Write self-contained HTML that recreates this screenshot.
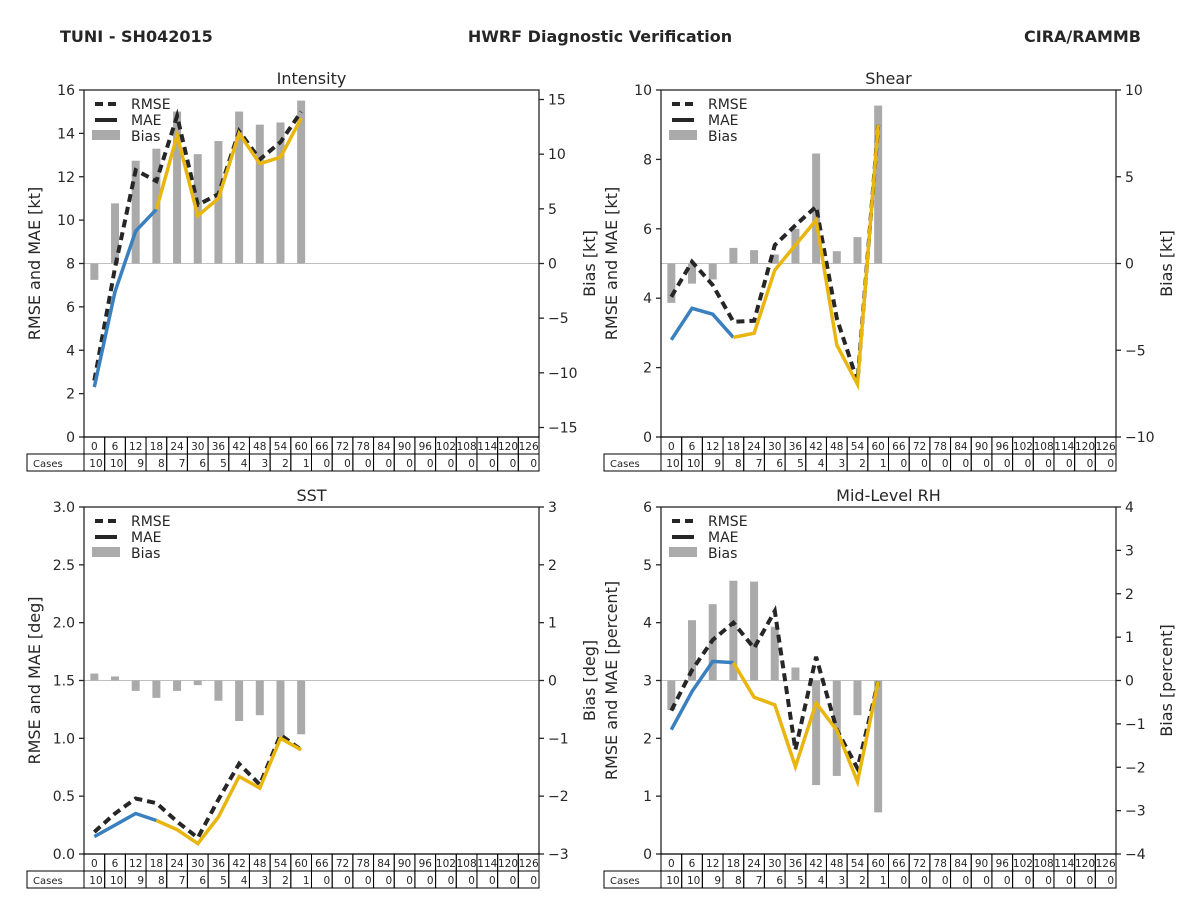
<!DOCTYPE html>
<html><head><meta charset="utf-8"><style>
body{margin:0;background:#fff;}
svg text{font-family:"DejaVu Sans","Liberation Sans",sans-serif;fill:#262626;}
</style></head><body>
<svg id="c" width="1200" height="900" viewBox="0 0 1200 900" xmlns="http://www.w3.org/2000/svg">
<text x="60" y="42" font-size="16" font-weight="bold">TUNI - SH042015</text>
<text x="600" y="42" font-size="16" font-weight="bold" text-anchor="middle">HWRF Diagnostic Verification</text>
<text x="1141" y="42" font-size="16" font-weight="bold" text-anchor="end">CIRA/RAMMB</text>
</svg>
<script>
const leadTimes=[0,6,12,18,24,30,36,42,48,54,60,66,72,78,84,90,96,102,108,114,120,126];
const cases=[10,10,9,8,7,6,5,4,3,2,1,0,0,0,0,0,0,0,0,0,0,0];
const intRmse=[2.6,7.8,12.3,11.8,14.8,10.7,11.2,14.1,12.8,13.6,15.0];
const intMae=[2.3,6.7,9.5,10.5,13.9,10.2,11.0,14.0,12.6,12.9,14.7];
const intBias=[-1.5,5.5,9.4,10.5,13.9,10.0,11.2,13.9,12.7,12.9,14.9];
const shrRmse=[4.04,5.05,4.38,3.32,3.35,5.53,6.1,6.64,3.42,1.6,9.0];
const shrMae=[2.8,3.71,3.54,2.87,2.99,4.81,5.53,6.25,2.65,1.52,9.0];
const shrBias=[-2.27,-1.16,-0.92,0.9,0.77,0.52,2.0,6.34,0.71,1.52,9.1];
const sstRmse=[0.19,0.35,0.48,0.44,0.28,0.14,0.47,0.78,0.6,1.03,0.9];
const sstMae=[0.15,0.25,0.35,0.29,0.21,0.09,0.32,0.67,0.57,1.0,0.9];
const sstBias=[0.12,0.07,-0.18,-0.3,-0.18,-0.08,-0.35,-0.7,-0.6,-0.97,-0.93];
const rhRmse=[2.48,3.18,3.7,4.0,3.56,4.2,1.8,3.41,2.15,1.48,2.98];
const rhMae=[2.15,2.81,3.33,3.31,2.71,2.58,1.51,2.61,2.14,1.25,2.98];
const rhBias=[-0.68,1.39,1.76,2.3,2.28,1.24,0.3,-2.41,-2.2,-0.8,-3.04];
const intLeftTicks=[0,2,4,6,8,10,12,14,16];
const intRightTicks=[-15,-10,-5,0,5,10,15];
const shrLeftTicks=[0,2,4,6,8,10];
const shrRightTicks=[-10,-5,0,5,10];
const sstLeftTicks=["0.0","0.5","1.0","1.5","2.0","2.5","3.0"];
const sstRightTicks=[-3,-2,-1,0,1,2,3];
const rhLeftTicks=[0,1,2,3,4,5,6];
const rhRightTicks=[-4,-3,-2,-1,0,1,2,3,4];

const svg=document.getElementById('c');
const NS='http://www.w3.org/2000/svg';
function mk(tag,attrs,parent){const e=document.createElementNS(NS,tag);for(const k in attrs)e.setAttribute(k,attrs[k]);(parent||svg).appendChild(e);return e;}

function panel(cfg){
  const g=mk('g',{});
  
  
  const L=cfg.x0,R=L+455,T=cfg.y0,B=T+347;
  const n=leadTimes.length, cw=(R-L)/n;
  const xs=i=>L+cw*(i+0.5);
  const yl=v=>B-(v-cfg.lmin)/(cfg.lmax-cfg.lmin)*(B-T);
  const yr=v=>B-(v-cfg.rmin)/(cfg.rmax-cfg.rmin)*(B-T);
  const z=mk('line',{x1:L,x2:R,y1:yr(0),y2:yr(0),stroke:'#c0c0c0','stroke-width':1},g);
  
  
  cfg.bias.forEach((v,i)=>{
    const y1=yr(Math.max(v,0)),y2=yr(Math.min(v,0));
    const b=mk('rect',{x:xs(i)-4,y:y1,width:8,height:Math.max(y2-y1,0.5),fill:'#aaaaaa'},g);
    
    
  });
  const pts=(arr,f,a,bnd)=>arr.slice(a,bnd).map((v,k)=>xs(k+a).toFixed(1)+','+f(v).toFixed(1)).join(' ');
  const r=mk('polyline',{points:pts(cfg.rmse,yl,0,cfg.rmse.length),fill:'none',stroke:'#262626','stroke-width':4,'stroke-dasharray':'8,5'},g);
  
  
  const m1=mk('polyline',{points:pts(cfg.mae,yl,0,4),fill:'none',stroke:'#3a80bf','stroke-width':3.5},g);
  
  
  const m2=mk('polyline',{points:pts(cfg.mae,yl,3,cfg.mae.length),fill:'none',stroke:'#e8b60f','stroke-width':3.5},g);
  
  
  const fr=mk('rect',{x:L,y:T,width:R-L,height:B-T,fill:'none',stroke:'#262626','stroke-width':1.3},g);
  
  
  cfg.lt.forEach(t=>{const y=yl(parseFloat(t));
    mk('line',{x1:L-5,x2:L,y1:y,y2:y,stroke:'#262626','stroke-width':1.3},g);
    const tx=mk('text',{x:L-9,y:y+5,'font-size':14,'text-anchor':'end'},g);tx.textContent=t;
    
    });
  cfg.rt.forEach(t=>{const y=yr(t);
    mk('line',{x1:R,x2:R+5,y1:y,y2:y,stroke:'#262626','stroke-width':1.3},g);
    const tx=mk('text',{x:R+9,y:y+5,'font-size':14},g);tx.textContent=(t<0?'\u2212'+(-t):t);
    
    });
  const ti=mk('text',{x:(L+R)/2,y:T-6,'font-size':16,'text-anchor':'middle'},g);ti.textContent=cfg.title;
  
  
  const ly=mk('text',{x:0,y:0,'font-size':16,'text-anchor':'middle',transform:`translate(${L-44},${(T+B)/2}) rotate(-90)`},g);ly.textContent=cfg.ylab;
  
  
  const ry=mk('text',{x:0,y:0,'font-size':16,'text-anchor':'middle',transform:`translate(${R+56},${(T+B)/2}) rotate(-90)`},g);ry.textContent=cfg.rlab;
  
  
  const lg=mk('g',{},g);
  
  
  const lx=L+11, ly0=T+14;
  mk('line',{x1:lx,x2:lx+22,y1:ly0,y2:ly0,stroke:'#262626','stroke-width':4,'stroke-dasharray':'8,5'},lg);
  mk('line',{x1:lx,x2:lx+22,y1:ly0+16,y2:ly0+16,stroke:'#262626','stroke-width':4},lg);
  mk('rect',{x:lx-3,y:ly0+26,width:28,height:10,fill:'#aaaaaa'},lg);
  ['RMSE','MAE','Bias'].forEach((s,k)=>{const t=mk('text',{x:lx+36,y:ly0+5+16*k,'font-size':14},lg);t.textContent=s;
    
    });
  const tb=mk('g',{},g);
  
  
  mk('rect',{x:L-57,y:B+17,width:57,height:17,fill:'none',stroke:'#000','stroke-width':1},tb);
  const cl=mk('text',{x:L-51,y:B+30,'font-size':10},tb);cl.textContent='Cases';
  leadTimes.forEach((lt,i)=>{
    const x=L+cw*i;
    mk('rect',{x:x,y:B,width:cw,height:17,fill:'none',stroke:'#000','stroke-width':1},tb);
    mk('rect',{x:x,y:B+17,width:cw,height:17,fill:'none',stroke:'#000','stroke-width':1},tb);
    const h=mk('text',{x:xs(i),y:B+13,'font-size':10.5,'text-anchor':'middle'},tb);h.textContent=lt;
    
    
    const c=mk('text',{x:x+cw-2,y:B+30,'font-size':10.5,'text-anchor':'end'},tb);c.textContent=cases[i];
    
    
  });
}
panel({name:'intensity',title:'Intensity',x0:84,y0:90,lmin:0,lmax:16,rmin:-15.87,rmax:15.87,lt:intLeftTicks,rt:intRightTicks,rmse:intRmse,mae:intMae,bias:intBias,ylab:'RMSE and MAE [kt]',rlab:'Bias [kt]'});
panel({name:'shear',title:'Shear',x0:661,y0:90,lmin:0,lmax:10,rmin:-10,rmax:10,lt:shrLeftTicks,rt:shrRightTicks,rmse:shrRmse,mae:shrMae,bias:shrBias,ylab:'RMSE and MAE [kt]',rlab:'Bias [kt]'});
panel({name:'sst',title:'SST',x0:84,y0:507,lmin:0,lmax:3,rmin:-3,rmax:3,lt:sstLeftTicks,rt:sstRightTicks,rmse:sstRmse,mae:sstMae,bias:sstBias,ylab:'RMSE and MAE [deg]',rlab:'Bias [deg]'});
panel({name:'mid-level-rh',title:'Mid-Level RH',x0:661,y0:507,lmin:0,lmax:6,rmin:-4,rmax:4,lt:rhLeftTicks,rt:rhRightTicks,rmse:rhRmse,mae:rhMae,bias:rhBias,ylab:'RMSE and MAE [percent]',rlab:'Bias [percent]'});
</script>
</body></html>
